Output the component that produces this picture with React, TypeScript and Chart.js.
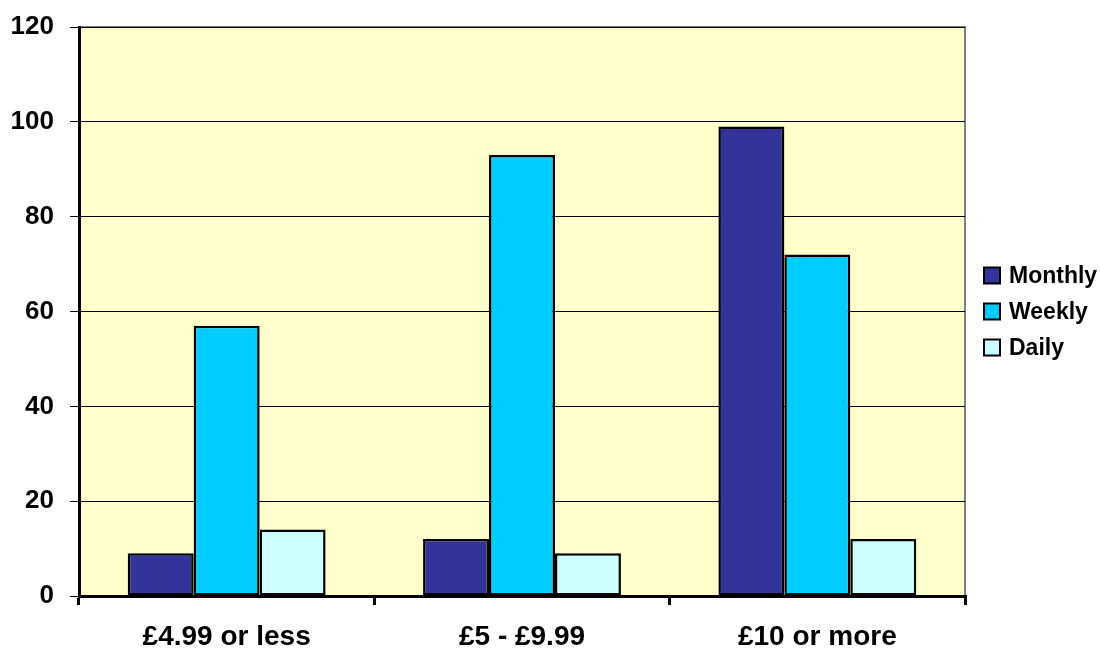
import React, { useEffect, useRef } from "react";
import { Chart, registerables } from "chart.js";

Chart.register(...registerables);

const categories = ["£4.99 or less", "£5 - £9.99", "£10 or more"];
const monthly = [9, 12, 99];
const weekly = [57, 93, 72];
const daily = [14, 9, 12];
const seriesNames = ["Monthly", "Weekly", "Daily"];
const seriesColors = ["#333399", "#00CCFF", "#CCFFFF"];

const FONT = "'Liberation Sans', Arial, sans-serif";

const plotBg = {
  id: "plotBg",
  beforeDraw(chart: any) {
    const { ctx, chartArea } = chart;
    if (!chartArea) return;
    ctx.save();
    ctx.fillStyle = "#FFFFCC";
    ctx.fillRect(chartArea.left, chartArea.top, chartArea.right - chartArea.left, chartArea.bottom - chartArea.top);
    ctx.strokeStyle = "#808080";
    ctx.lineWidth = 2;
    ctx.beginPath();
    ctx.moveTo(chartArea.left, chartArea.top);
    ctx.lineTo(chartArea.right, chartArea.top);
    ctx.lineTo(chartArea.right, chartArea.bottom);
    ctx.stroke();
    ctx.restore();
  },
};

const customLegend = {
  id: "customLegend",
  afterDraw(chart: any) {
    const { ctx, chartArea } = chart;
    const ds = chart.data.datasets;
    const boxX = chartArea.right + 19;
    const box = 16;
    const gap = 36;
    const centerY = (chartArea.top + chartArea.bottom) / 2;
    const startY = centerY - ((ds.length - 1) * gap) / 2;
    ctx.save();
    ctx.font = `bold 23px ${FONT}`;
    ctx.textBaseline = "middle";
    ctx.textAlign = "left";
    ds.forEach((d: any, i: number) => {
      const y = startY + i * gap;
      ctx.fillStyle = d.backgroundColor;
      ctx.fillRect(boxX, y - box / 2, box, box);
      ctx.strokeStyle = "#000";
      ctx.lineWidth = 2;
      ctx.strokeRect(boxX, y - box / 2, box, box);
      ctx.fillStyle = "#000";
      ctx.fillText(d.label, boxX + box + 9, y + 1);
    });
    ctx.restore();
  },
};

export default function App() {
  const ref = useRef<HTMLCanvasElement | null>(null);
  useEffect(() => {
    document.body.style.margin = "0";
    const data = [monthly, weekly, daily];
    const chart = new Chart(ref.current as HTMLCanvasElement, {
      type: "bar",
      data: {
        labels: categories,
        datasets: seriesNames.map((n, i) => ({
          label: n,
          data: data[i],
          backgroundColor: seriesColors[i],
          borderColor: "#000000",
          borderWidth: 2.5,
          borderSkipped: false,
          barPercentage: 1,
          categoryPercentage: 0.67,
        })),
      },
      options: {
        animation: false,
        responsive: false,
        maintainAspectRatio: false,
        layout: { padding: { top: 27, left: 0, right: 135, bottom: 0 } },
        plugins: {
          tooltip: { enabled: false },
          legend: { display: false },
        },
        scales: {
          x: {
            grid: {
              display: true,
              drawOnChartArea: false,
              drawTicks: true,
              tickLength: 9,
              color: "#000",
              lineWidth: 3,
              offset: true,
            },
            border: { display: true, color: "#000", width: 3 },
            ticks: {
              color: "#000",
              font: { family: FONT, size: 28, weight: "bold" },
              padding: 15,
              maxRotation: 0,
            },
            afterFit(scale: any) {
              scale.height = 52;
              scale.paddingLeft = 0;
              scale.paddingRight = 0;
            },
          },
          y: {
            min: 0,
            max: 120,
            grid: {
              display: true,
              drawOnChartArea: true,
              drawTicks: true,
              tickLength: 9,
              color: "#000",
              lineWidth: 1,
            },
            border: { display: true, color: "#000", width: 3 },
            ticks: {
              stepSize: 20,
              color: "#000",
              font: { family: FONT, size: 26, weight: "bold" },
              padding: 16,
            },
            afterFit(scale: any) {
              scale.width = 79;
              scale.paddingTop = 0;
              scale.paddingBottom = 0;
            },
          },
        },
      },
      plugins: [plotBg, customLegend],
    } as any);
    return () => chart.destroy();
  }, []);
  return (
    <div style={{ position: "fixed", left: 0, top: 0, width: 1100, height: 648, background: "#fff" }}>
      <canvas ref={ref} width={1100} height={648} style={{ width: 1100, height: 648 }} />
    </div>
  );
}
